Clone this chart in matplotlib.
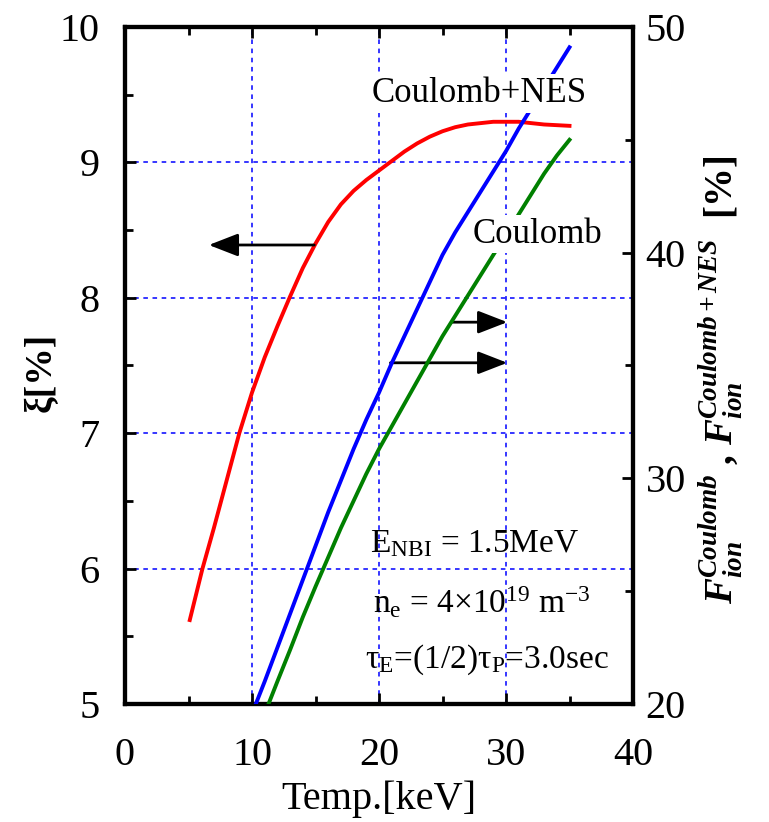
import numpy as np
import matplotlib.pyplot as plt
from matplotlib.ticker import MultipleLocator

plt.rcParams['font.family'] = ['Liberation Serif', 'DejaVu Serif']
plt.rcParams['mathtext.fontset'] = 'custom'
plt.rcParams['mathtext.rm'] = 'Liberation Serif'
plt.rcParams['mathtext.it'] = 'Liberation Serif:italic'
plt.rcParams['mathtext.bf'] = 'Liberation Serif:bold'
plt.rcParams['mathtext.bfit'] = 'Liberation Serif:italic:bold'

# xi [%] (left axis)
temp_xi = [5.1, 6.1, 7.0, 7.8, 9.0, 10.0, 11.0, 12.0, 13.0, 14.0, 15.0, 16.0, 17.0,
           18.0, 19.0, 20.0, 21.0, 22.0, 23.0, 24.0, 25.0, 26.0, 27.0, 28.0, 29.0,
           30.0, 31.0, 32.0, 33.0, 34.0, 35.0]
xi = [5.62, 6.00, 6.30, 6.58, 7.00, 7.30, 7.56, 7.79, 8.01, 8.22, 8.40, 8.56, 8.69,
      8.79, 8.87, 8.94, 9.01, 9.08, 9.14, 9.19, 9.23, 9.26, 9.28, 9.29, 9.30,
      9.30, 9.30, 9.29, 9.28, 9.275, 9.27]

# F_ion Coulomb+NES [%] (right axis)
temp_nes = [10.3, 11.0, 12.0, 13.0, 14.0, 15.0, 16.0, 17.0, 18.0, 19.0, 20.0, 21.0,
            22.0, 23.0, 24.0, 25.0, 26.0, 27.0, 28.0, 29.0, 30.0, 31.0, 32.0, 33.0,
            34.0, 35.0]
f_nes = [20.0, 21.0, 22.5, 24.0, 25.5, 27.0, 28.5, 29.9, 31.3, 32.6, 33.8, 35.1,
         36.3, 37.5, 38.7, 39.9, 40.9, 41.8, 42.7, 43.6, 44.5, 45.5, 46.4, 47.3,
         48.2, 49.1]

# F_ion Coulomb [%] (right axis)
temp_coul = [11.3, 12.0, 13.0, 14.0, 15.0, 16.0, 17.0, 18.0, 19.0, 20.0, 21.0, 22.0,
             23.0, 24.0, 25.0, 26.0, 27.0, 28.0, 29.0, 30.0, 31.0, 32.0, 33.0, 34.0,
             35.0]
f_coul = [20.0, 21.0, 22.4, 23.85, 25.2, 26.5, 27.8, 29.0, 30.2, 31.3, 32.3, 33.3,
          34.3, 35.3, 36.3, 37.2, 38.1, 39.0, 39.9, 40.8, 41.7, 42.6, 43.5, 44.3,
          45.0]

fig = plt.figure(figsize=(7.69, 8.22), dpi=100)
ax = fig.add_axes([125/769, 118/822, 508/769, 677/822])
ax2 = ax.twinx()

ax.grid(True, which='major', color='blue', linestyle=(0, (3, 3)), linewidth=1.1)
ax.set_axisbelow(True)

ax.plot(temp_xi, xi, color='red', lw=2.8, zorder=3)
ax2.plot(temp_nes, f_nes, color='blue', lw=2.8, zorder=3)
ax2.plot(temp_coul, f_coul, color='green', lw=2.8, zorder=3)

ax.set_xlim(0, 40)
ax.set_ylim(5, 10)
ax2.set_ylim(20, 50)
ax.xaxis.set_major_locator(MultipleLocator(10))
ax.xaxis.set_minor_locator(MultipleLocator(5))
ax.yaxis.set_major_locator(MultipleLocator(1))
ax.yaxis.set_minor_locator(MultipleLocator(0.5))
ax2.yaxis.set_major_locator(MultipleLocator(10))
ax2.yaxis.set_minor_locator(MultipleLocator(5))

ax.tick_params(which='both', direction='in', top=True, right=False, width=2)
ax.tick_params(which='major', length=8, labelsize=29)
ax.tick_params(which='minor', length=6)
ax.tick_params(axis='x', pad=24)
ax.tick_params(axis='y', pad=18)
ax2.tick_params(which='both', direction='in', width=2)
ax2.tick_params(which='major', length=8, labelsize=29, pad=9)
ax2.tick_params(which='minor', length=6)
for a in (ax, ax2):
    for s in a.spines.values():
        s.set_linewidth(3)

ax.set_xlabel('Temp.[keV]', fontsize=29)
ax.xaxis.set_label_coords(0.5, -0.113)
ax.set_ylabel('ξ[%]', fontsize=27, fontweight='bold')
ax.yaxis.set_label_coords(-0.13, 0.49)
ax2.set_ylabel(r'$\mathbfit{F}_{\mathbfit{ion}}^{\mathbfit{Coulomb}}$ , '
               r'$\mathbfit{F}_{\mathbfit{ion}}^{\mathbfit{Coulomb+NES}}$  [%]',
               fontsize=28, fontweight='bold')
ax2.yaxis.set_label_coords(1.126, 0.479)

# arrows
arrow = dict(arrowstyle='-|>,head_length=0.9,head_width=0.35', color='black',
             lw=2, mutation_scale=20, shrinkA=0, shrinkB=0)
ax.annotate('', xy=(6.6, 8.39), xytext=(14.9, 8.39), arrowprops=arrow, zorder=4)
ax.annotate('', xy=(30.1, 7.82), xytext=(25.7, 7.82), arrowprops=arrow, zorder=4)
ax.annotate('', xy=(30.1, 7.52), xytext=(20.9, 7.52), arrowprops=arrow, zorder=4)

box = dict(facecolor='white', edgecolor='none', pad=2)
ax2.text(19.45, 20 + 6 * (9.51 - 5), 'Coulomb+NES', fontsize=25, ha='left',
         va='center', bbox=box, zorder=5)
ax2.text(27.36, 20 + 6 * (8.47 - 5), 'Coulomb', fontsize=25, ha='left',
         va='center', bbox=box, zorder=5)

ax2.text(19.3, 20 + 6 * (6.12 - 5), r'E$_{\mathrm{NBI}}$ = 1.5MeV', fontsize=24,
         ha='left', va='baseline', zorder=5)
ax2.text(19.5, 20 + 6 * (5.67 - 5), r'n$_{\mathrm{e}}$ = 4×10$^{\mathrm{19}}$ m$^{\mathrm{-3}}$',
         fontsize=24, ha='left', va='baseline', zorder=5)
ax2.text(18.9, 20 + 6 * (5.27 - 5), r'τ$_{\mathrm{E}}$=(1/2)τ$_{\mathrm{P}}$=3.0sec',
         fontsize=24, ha='left', va='baseline', zorder=5)

fig.savefig('out.png', dpi=100)
